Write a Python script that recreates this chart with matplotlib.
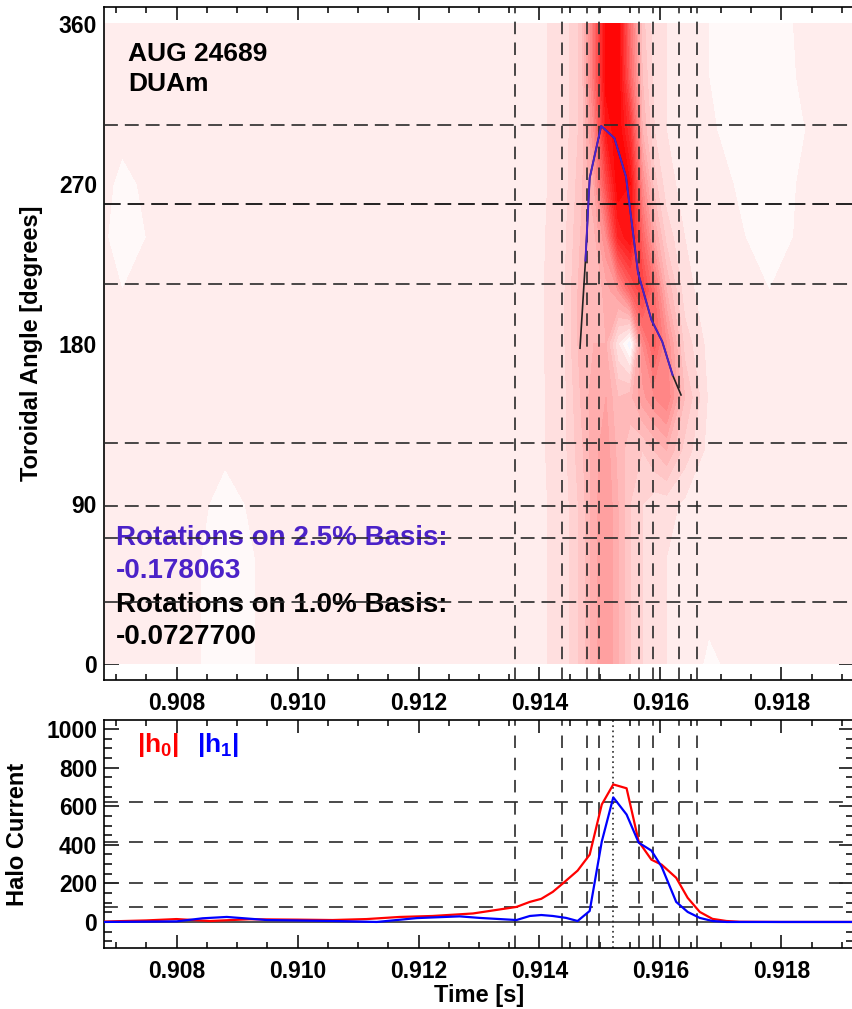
import numpy as np
import matplotlib
matplotlib.use("Agg")
import matplotlib.pyplot as plt
from matplotlib.colors import LinearSegmentedColormap, Normalize

plt.rcParams['font.family'] = ['Liberation Sans', 'DejaVu Sans']
plt.rcParams['font.weight'] = 'bold'
plt.rcParams['mathtext.fontset'] = 'custom'
plt.rcParams['mathtext.rm'] = 'Liberation Sans:bold'
plt.rcParams['mathtext.bf'] = 'Liberation Sans:bold'
plt.rcParams['lines.scale_dashes'] = False

# ---------------- data ----------------
shot_label = "AUG 24689"
signal_label = "DUAm"
rot_25_label = "Rotations on 2.5% Basis:"
rot_25_value = "-0.178063"
rot_10_label = "Rotations on 1.0% Basis:"
rot_10_value = "-0.0727700"

# normalised mode amplitude on a (time, toroidal angle) grid
angle_grid = [0, 30, 60, 90, 120, 150, 180, 210, 240, 270, 300, 330, 360]
time_grid = [0.9068, 0.9071, 0.9076, 0.9084, 0.9088, 0.9093, 0.9100, 0.9110,
             0.9120, 0.9128, 0.9133, 0.9136, 0.9140, 0.9144, 0.9147, 0.9149,
             0.9151, 0.9153, 0.9155, 0.9157, 0.9159, 0.9161, 0.9164, 0.9168,
             0.9172, 0.9178, 0.9184, 0.9192]
amplitude = [
    [.06, .06, .06, .06, .06, .06, .06, .06, .06, .06, .06, .06, .06],
    [.06, .06, .06, .06, .06, .06, .06, .05, .01, .04, .06, .06, .06],
    [.06, .06, .06, .06, .06, .06, .06, .06, .06, .06, .06, .06, .06],
    [.05, .05, .05, .06, .06, .06, .06, .06, .06, .06, .06, .06, .06],
    [.00, .00, .01, .03, .06, .06, .06, .06, .06, .06, .06, .06, .06],
    [.05, .05, .05, .06, .06, .06, .06, .06, .06, .06, .06, .06, .06],
    [.06, .06, .06, .06, .06, .06, .06, .06, .06, .06, .06, .06, .06],
    [.06, .06, .06, .06, .06, .06, .06, .06, .06, .06, .06, .06, .06],
    [.06, .06, .06, .06, .06, .06, .06, .06, .06, .06, .06, .06, .06],
    [.06, .06, .06, .06, .06, .06, .06, .06, .06, .06, .06, .06, .06],
    [.06, .06, .06, .06, .06, .06, .06, .06, .06, .06, .06, .06, .06],
    [.07, .07, .07, .07, .07, .07, .07, .07, .07, .07, .07, .07, .07],
    [.09, .09, .09, .09, .09, .09, .09, .09, .09, .09, .09, .09, .09],
    [.12, .12, .12, .12, .13, .13, .14, .14, .13, .12, .12, .12, .12],
    [.22, .22, .22, .22, .24, .26, .28, .28, .26, .24, .22, .22, .22],
    [.33, .33, .33, .33, .33, .33, .30, .25, .28, .35, .45, .55, .55],
    [.40, .40, .40, .40, .38, .35, .30, .32, .45, .70, .90, .98, .98],
    [.30, .30, .30, .30, .28, .25, .10, .40, .85, 1.0, 1.0, 1.0, 1.0],
    [.20, .20, .20, .20, .22, .28, -.05, .60, .95, .95, .80, .60, .55],
    [.15, .15, .15, .15, .20, .38, .45, .75, .60, .45, .30, .25, .22],
    [.12, .12, .12, .12, .25, .45, .62, .55, .35, .22, .15, .13, .12],
    [.10, .10, .10, .12, .30, .50, .45, .30, .18, .12, .10, .10, .10],
    [.08, .08, .08, .09, .18, .25, .18, .12, .10, .08, .08, .08, .08],
    [.04, .06, .07, .07, .08, .09, .08, .07, .07, .07, .06, .05, .05],
    [.06, .06, .06, .06, .06, .06, .06, .06, .06, .05, .03, .02, .03],
    [.06, .06, .06, .06, .06, .06, .06, .05, .03, .02, .02, .02, .03],
    [.06, .06, .06, .06, .06, .06, .06, .06, .06, .06, .05, .06, .06],
    [.06, .06, .06, .06, .06, .06, .06, .06, .06, .06, .06, .06, .06],
]

# phase trajectory of the mode maximum
traj_time = [0.91467, 0.91476, 0.91483, 0.91502, 0.91524, 0.91543,
             0.91563, 0.91585, 0.91603, 0.91620, 0.91634]
traj_angle = [177.6, 226.9, 273.3, 302.6, 295.7, 274.1,
              219.9, 193.6, 181.3, 162.6, 151.3]
basis25_first, basis25_last = 1, 9

# sensor angles and analysis times
sensor_angles = [35.0, 71.0, 89.0, 124.3, 213.7, 303.1]
reference_angle = 258.7
event_times = [0.91359, 0.91438, 0.91479, 0.91499,
               0.91564, 0.91587, 0.91630, 0.91661]
peak_time = 0.91522

# halo currents
h0_time = [0.9068, 0.9075, 0.9080, 0.90855, 0.9092, 0.9100, 0.91058, 0.91114,
           0.91169, 0.91223, 0.9129, 0.91362, 0.91384, 0.91403, 0.91422,
           0.91438, 0.91463, 0.91483, 0.91503, 0.91522, 0.91544, 0.91564,
           0.91585, 0.91602, 0.91626, 0.91645, 0.91665, 0.91686, 0.91709,
           0.91731, 0.9180, 0.9192]
h0 = [2, 8, 15, 5, 14, 12, 10, 15, 26, 31, 44, 78, 104, 120, 156, 198, 266,
      349, 609, 713, 693, 417, 323, 297, 229, 125, 52, 16, 5, 1, 0, 0]
h1_time = [0.9068, 0.9080, 0.90843, 0.90883, 0.90949, 0.91058, 0.91131,
           0.91197, 0.91268, 0.91301, 0.91362, 0.91384, 0.91403, 0.91422,
           0.91444, 0.91463, 0.91483, 0.91503, 0.91522, 0.91544, 0.91564,
           0.91585, 0.91602, 0.91626, 0.91645, 0.91665, 0.91686, 0.91709,
           0.9180, 0.9192]
h1 = [0, 3, 19, 26, 10, 5, 0, 20, 29, 21, 10, 31, 36, 31, 21, 5, 57, 417,
      646, 557, 411, 370, 286, 104, 52, 21, 5, 0, 0, 0]
halo_levels = [622, 415, 202, 78]

# ---------------- figure ----------------
W, H = 852, 1009
fig = plt.figure(figsize=(W / 100, H / 100), dpi=100)


def rect(left, top, right, bottom):
    return [left / W, 1 - bottom / H, (right - left) / W, (bottom - top) / H]


ax1 = fig.add_axes(rect(104, 7, 854, 680))
ax2 = fig.add_axes(rect(104, 720, 854, 948))

xlim = (0.9068, 0.9192)
dash_col = '#2a2a2a'
traj_col = '#4b22c8'
tick_fs = 16.5

# --- top panel: amplitude map ---
cmap = LinearSegmentedColormap.from_list(
    'wr', [(0.0, '#d8dcff'), (0.1 / 1.1, '#ffffff'), (1.0, '#ff0000')])
norm = Normalize(vmin=-0.1, vmax=1.0)
levels = np.arange(-0.1, 1.0001 + 0.05, 0.05)
Z = np.array(amplitude).T
ax1.contourf(time_grid, angle_grid, Z, levels=levels, cmap=cmap, norm=norm,
             zorder=1)
ax1.set_axisbelow(True)

for t in event_times:
    ax1.axvline(t, color=dash_col, lw=1.2, ls=(0, (9, 6)), zorder=4)
for a in sensor_angles:
    ax1.axhline(a, color=dash_col, lw=1.2, ls=(0, (10, 5)), zorder=4)
ax1.axhline(reference_angle, color='#111111', lw=1.3, ls=(0, (12, 5)), zorder=4)

ax1.plot(traj_time, traj_angle, color='#222222', lw=1.2, zorder=5)
ax1.plot(traj_time[basis25_first:basis25_last + 1],
         traj_angle[basis25_first:basis25_last + 1],
         color=traj_col, lw=1.4, zorder=6)

ax1.text(0.90720, 339, shot_label, color='black', fontsize=19,
         va='baseline', zorder=3)
ax1.text(0.90720, 322, signal_label, color='black', fontsize=19,
         va='baseline', zorder=3)
rot_kw = dict(fontsize=20, va='baseline', zorder=3)
ax1.text(0.90700, 67, rot_25_label, color=traj_col, **rot_kw)
ax1.text(0.90700, 48.5, rot_25_value, color=traj_col, **rot_kw)
ax1.text(0.90700, 29.5, rot_10_label, color='black', **rot_kw)
ax1.text(0.90700, 11, rot_10_value, color='black', **rot_kw)

ax1.set_xlim(*xlim)
ax1.set_ylim(-9, 369.5)
ax1.set_yticks([0, 90, 180, 270, 360])
ax1.set_ylabel('Toroidal Angle [degrees]', fontsize=17, fontweight='bold')
ax1.yaxis.set_label_coords(-0.081, 0.5)

# --- bottom panel: halo currents ---
for t in event_times:
    ax2.axvline(t, color=dash_col, lw=1.2, ls=(0, (9, 7)), zorder=2)
ax2.axvline(peak_time, color=dash_col, lw=1.2, ls=(0, (1.2, 2.5)), zorder=2)
for v in halo_levels:
    ax2.axhline(v, color=dash_col, lw=1.2, ls=(0, (10, 8)), zorder=2)
ax2.axhline(0, color='#222222', lw=1.1, zorder=2)

ax2.plot(h0_time, h0, color='#ff0000', lw=1.6, zorder=3)
ax2.plot(h1_time, h1, color='#0000ff', lw=1.6, zorder=4)

ax2.text(0.90734, 881, r'|h$_\mathbf{0}$|', color='#ff0000', fontsize=19,
         va='baseline')
ax2.text(0.90833, 881, r'|h$_\mathbf{1}$|', color='#0000ff', fontsize=19,
         va='baseline')

ax2.set_xlim(*xlim)
ax2.set_ylim(-135, 1047)
ax2.set_yticks(np.arange(0, 1001, 200))
ax2.set_yticks(np.arange(-100, 1047, 50), minor=True)
ax2.set_ylabel('Halo Current', fontsize=17, fontweight='bold')
ax2.yaxis.set_label_coords(-0.100, 0.5)
ax2.set_xlabel('Time [s]', fontsize=17, fontweight='bold')
ax2.xaxis.set_label_coords(0.5, -0.16)
ax2.xaxis.label.set_va('top')

# --- common axis styling ---
xt = [0.908, 0.910, 0.912, 0.914, 0.916, 0.918]
for ax in (ax1, ax2):
    ax.set_xticks(xt)
    ax.set_xticklabels(['%.3f' % v for v in xt])
    ax.set_xticks(np.arange(0.9070, 0.9192, 0.0005), minor=True)
    ax.tick_params(axis='both', which='both', direction='in', top=True,
                   right=True, width=1.1, colors='black')
    ax.tick_params(axis='x', which='major', length=9.5, pad=9,
                   labelsize=tick_fs)
    ax.tick_params(axis='x', which='minor', length=4.5)
    ax.tick_params(axis='y', which='major', length=11, pad=5,
                   labelsize=tick_fs)
    ax.tick_params(axis='y', which='minor', length=5.5)
    for lab in ax.get_xticklabels() + ax.get_yticklabels():
        lab.set_fontweight('bold')
    for sp in ax.spines.values():
        sp.set_linewidth(1.2)

fig.savefig('out.png', dpi=100)
